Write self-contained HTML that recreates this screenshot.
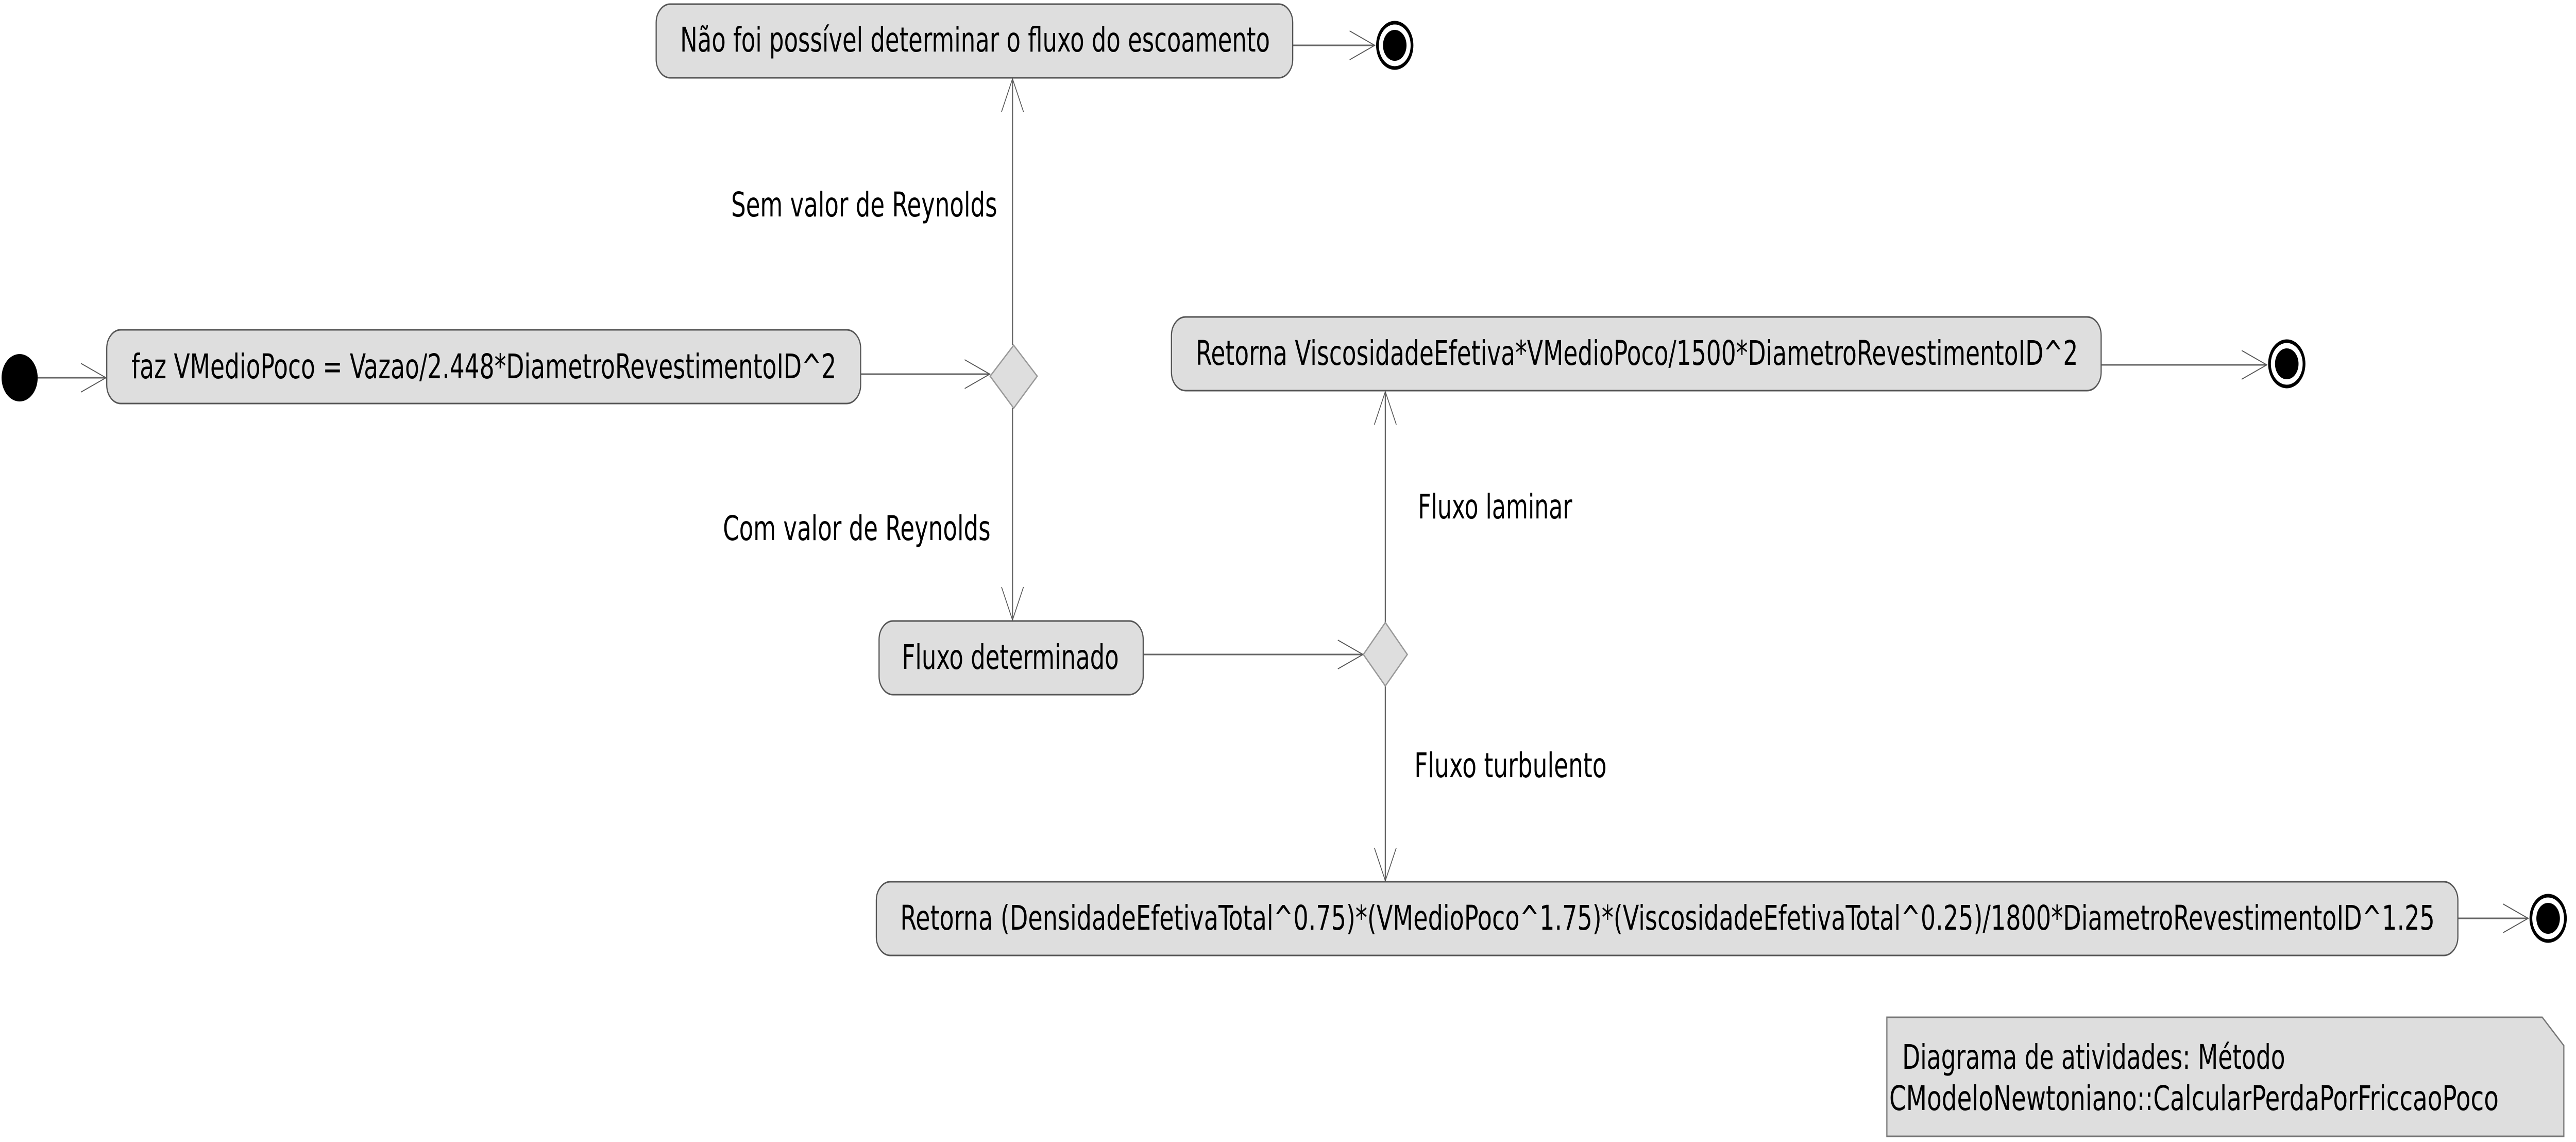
<!DOCTYPE html>
<html><head><meta charset="utf-8"><style>
html,body{margin:0;padding:0;background:#fff;width:100%;height:100%;overflow:hidden}
svg{display:block;position:absolute;left:0;top:0;width:100vw;height:100vh}
text{font-family:"DejaVu Sans Condensed","Liberation Sans",sans-serif;font-size:66px;fill:#000}
</style></head><body>
<svg viewBox="0 0 6564 2216" preserveAspectRatio="none" xmlns="http://www.w3.org/2000/svg">
<defs>
<marker id="a" markerWidth="70" markerHeight="60" refX="64" refY="30" orient="auto" markerUnits="userSpaceOnUse">
<path d="M0,2 L64,30 L0,58" fill="none" stroke="#555" stroke-width="2"/>
</marker>
</defs>
<g stroke="#666" stroke-width="3" fill="none" marker-end="url(#a)">
<line x1="96" y1="733" x2="270" y2="733"/>
<line x1="2193" y1="726" x2="2522" y2="726"/>
<line x1="2580" y1="670" x2="2580" y2="153"/>
<line x1="2580" y1="792" x2="2580" y2="1203"/>
<line x1="2913" y1="1270" x2="3473" y2="1270"/>
<line x1="3530" y1="1208" x2="3530" y2="760"/>
<line x1="3530" y1="1331" x2="3530" y2="1709"/>
<line x1="3294" y1="88" x2="3503" y2="88"/>
<line x1="5354" y1="708" x2="5776" y2="708"/>
<line x1="6263" y1="1782" x2="6442" y2="1782"/>
</g>
<circle cx="50" cy="733" r="46" fill="#000"/>
<g fill="#dedede" stroke="#555" stroke-width="3">
<rect x="272" y="640" width="1921" height="143" rx="36"/>
<rect x="1672" y="8" width="1622" height="143" rx="36"/>
<rect x="2985" y="615" width="2369" height="143" rx="36"/>
<rect x="2240" y="1205" width="673" height="143" rx="36"/>
<rect x="2233" y="1711" width="4030" height="143" rx="36"/>
<path d="M2583,670 L2643,730 L2583,792 L2523,730 Z" stroke="#999"/>
<path d="M3530,1208 L3586,1270 L3530,1331 L3474,1270 Z" stroke="#999"/>
<path d="M4808,1974 L6478,1974 L6533,2029 L6533,2205 L4808,2205 Z" stroke="#777"/>
</g>
<g fill="none" stroke="#000" stroke-width="7">
<circle cx="3554" cy="88" r="44"/>
<circle cx="5827" cy="706" r="44"/>
<circle cx="6493" cy="1782" r="44"/>
</g>
<g fill="#000">
<circle cx="3554" cy="88" r="30"/>
<circle cx="5827" cy="706" r="30"/>
<circle cx="6493" cy="1782" r="30"/>
</g>
<g dominant-baseline="middle">
<text x="335" y="716" textLength="1796" lengthAdjust="spacingAndGlyphs">faz VMedioPoco = Vazao/2.448*DiametroRevestimentoID^2</text>
<text x="1733" y="82" textLength="1503" lengthAdjust="spacingAndGlyphs">Não foi possível determinar o fluxo do escoamento</text>
<text x="3047" y="690" textLength="2248" lengthAdjust="spacingAndGlyphs">Retorna ViscosidadeEfetiva*VMedioPoco/1500*DiametroRevestimentoID^2</text>
<text x="2298" y="1280" textLength="553" lengthAdjust="spacingAndGlyphs">Fluxo determinado</text>
<text x="2294" y="1786" textLength="3910" lengthAdjust="spacingAndGlyphs">Retorna (DensidadeEfetivaTotal^0.75)*(VMedioPoco^1.75)*(ViscosidadeEfetivaTotal^0.25)/1800*DiametroRevestimentoID^1.25</text>
<text x="1863" y="402" textLength="678" lengthAdjust="spacingAndGlyphs">Sem valor de Reynolds</text>
<text x="1842" y="1030" textLength="682" lengthAdjust="spacingAndGlyphs">Com valor de Reynolds</text>
<text x="3613" y="988" textLength="393" lengthAdjust="spacingAndGlyphs">Fluxo laminar</text>
<text x="3604" y="1490" textLength="490" lengthAdjust="spacingAndGlyphs">Fluxo turbulento</text>
<text x="4847" y="2056" textLength="976" lengthAdjust="spacingAndGlyphs">Diagrama de atividades: Método</text>
<text x="4814" y="2136" textLength="1553" lengthAdjust="spacingAndGlyphs">CModeloNewtoniano::CalcularPerdaPorFriccaoPoco</text>
</g>
</svg>
</body></html>
